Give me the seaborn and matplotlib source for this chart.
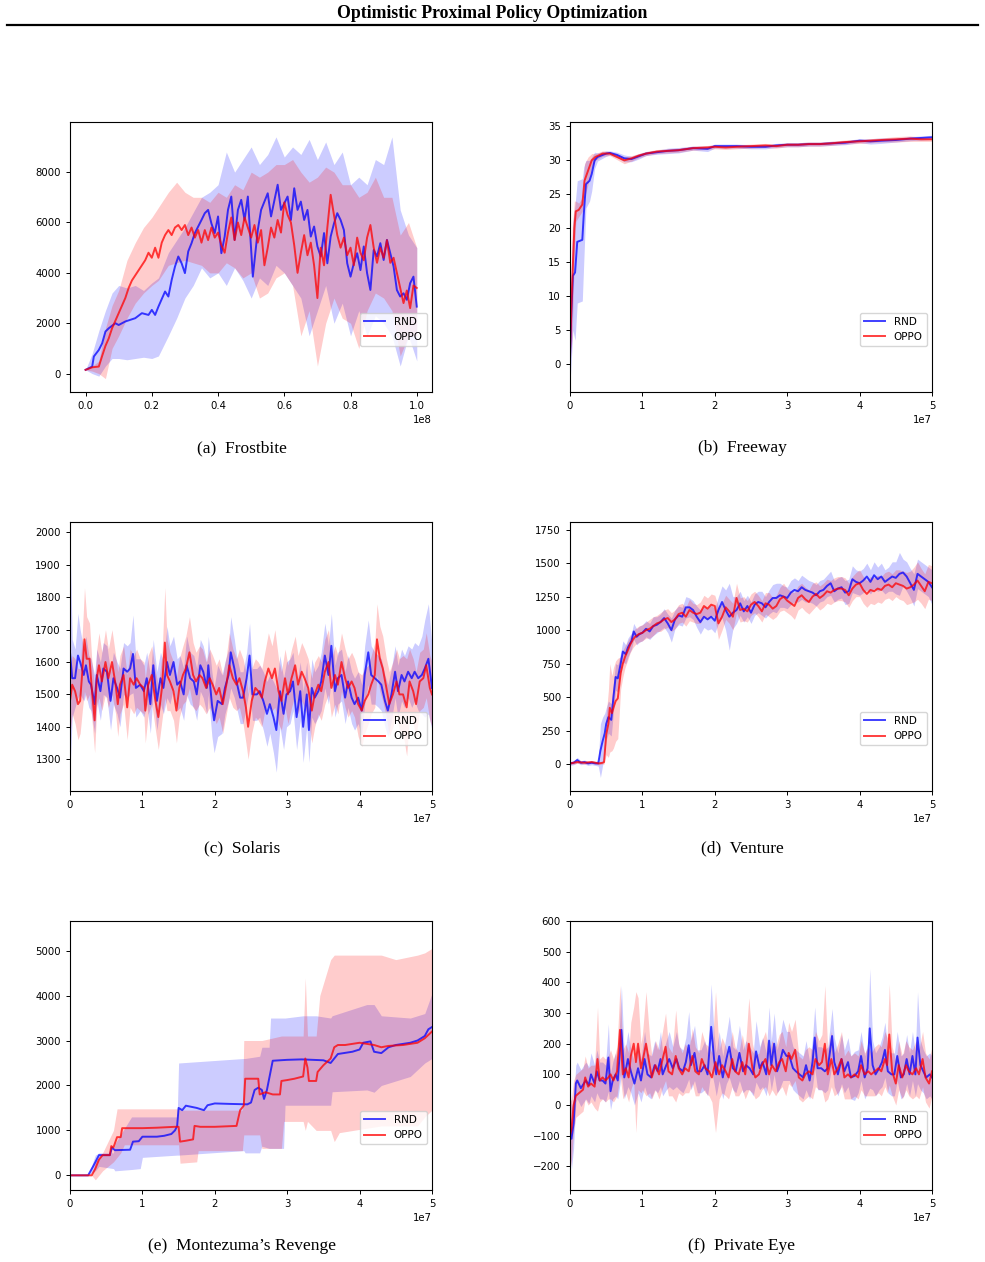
import numpy as np
import matplotlib
matplotlib.use("Agg")
import matplotlib.pyplot as plt
from matplotlib.lines import Line2D
import seaborn as sns

# ─── Data (x given in units of the axis offset: 1e8 for Frostbite, 1e7 for the rest) ───

# (a) Frostbite
frost_rnd_t = [0, 0.02, 0.025, 0.04, 0.05, 0.06, 0.07, 0.09, 0.10, 0.12,
               0.15, 0.17, 0.19, 0.20, 0.21, 0.22, 0.24, 0.25, 0.26, 0.27,
               0.28, 0.29, 0.30, 0.31, 0.32, 0.33, 0.35, 0.36, 0.37, 0.38,
               0.39, 0.40, 0.41, 0.42, 0.43, 0.44, 0.45, 0.46, 0.47, 0.48,
               0.49, 0.50, 0.505, 0.52, 0.53, 0.55, 0.56, 0.58, 0.59, 0.60,
               0.61, 0.62, 0.63, 0.64, 0.65, 0.66, 0.67, 0.68, 0.69, 0.70,
               0.71, 0.72, 0.73, 0.74, 0.75, 0.76, 0.77, 0.78, 0.79, 0.80,
               0.81, 0.82, 0.83, 0.84, 0.85, 0.86, 0.87, 0.88, 0.89, 0.90,
               0.91, 0.92, 0.93, 0.94, 0.95, 0.96, 0.97, 0.98, 0.99, 1.0]
frost_rnd = [150, 280, 680, 940, 1200, 1670, 1800, 2000, 1930, 2070,
             2200, 2400, 2330, 2530, 2330, 2660, 3260, 3060, 3720, 4250,
             4650, 4380, 3990, 4850, 5180, 5580, 6100, 6370, 6500, 5960,
             5580, 6240, 4780, 5440, 6500, 7030, 5310, 6500, 6900, 6100,
             7030, 4910, 3850, 5700, 6500, 7160, 6240, 7500, 6500, 6760,
             7030, 6100, 7360, 6500, 6830, 6100, 6500, 5440, 5840, 5050,
             4650, 5580, 4380, 5440, 5960, 6370, 6100, 5700, 4380, 3850,
             4380, 4780, 4110, 5050, 3990, 3320, 4910, 4650, 5180, 4510,
             5310, 4780, 4250, 3320, 3060, 3190, 2930, 3590, 3850, 2660]
frost_oppo_t = [0, 0.02, 0.04] + [round(0.05 + 0.01 * i, 2) for i in range(96)]
frost_oppo = [150, 250, 280,
              700, 1100, 1400, 1800, 2100, 2400, 2700, 3000, 3400, 3700,
              3900, 4100, 4300, 4500, 4800, 4600, 5000, 4600, 5200, 5500,
              5700, 5500, 5800, 5900, 5700, 5900, 5500, 5800, 5400, 5700,
              5200, 5700, 5300, 5800, 5400, 5600, 5100, 4800, 5600, 6200,
              5300, 6000, 5500, 6200, 5800, 5400, 5900, 5200, 5700, 4300,
              5000, 5800, 5400, 6100, 5600, 6800, 6300, 6000, 5100, 4000,
              4800, 5500, 4700, 5200, 4300, 3000, 5000, 4300, 5800, 7100,
              6300, 5500, 5000, 5400, 4700, 5000, 4300, 5400, 4800, 4500,
              5400, 5900, 5000, 4400, 5000, 4600, 5300, 4400, 4600, 4000,
              3400, 2800, 3300, 2600, 3500, 3400]
frost_band_t = [0, 0.02, 0.04, 0.06, 0.08, 0.10,
                0.125, 0.15, 0.175, 0.20, 0.22, 0.25,
                0.275, 0.30, 0.325, 0.35, 0.375, 0.40,
                0.425, 0.45, 0.475, 0.50, 0.525, 0.55,
                0.575, 0.60, 0.625, 0.65, 0.675, 0.70,
                0.725, 0.75, 0.775, 0.80, 0.825, 0.85,
                0.875, 0.90, 0.925, 0.95, 0.975, 1.0]
frost_rnd_lo = [150, 0, -100, 300, 600, 600,
                550, 600, 650, 600, 700, 1500,
                2200, 3000, 3500, 4200, 3800, 4000,
                3500, 4200, 3700, 3000, 3800, 3500,
                4300, 4000, 3500, 3000, 1500, 2500,
                3500, 2000, 2800, 1500, 2500, 1500,
                2300, 2000, 1500, 300, 1500, 500]
frost_rnd_hi = [150, 800, 1700, 2500, 3200, 3500,
                3400, 3500, 3300, 3600, 3800, 4800,
                5300, 5800, 6400, 7000, 7200, 7500,
                8800, 8000, 8500, 9000, 8300, 8700,
                9400, 8600, 9000, 8700, 9300, 8500,
                9200, 8300, 8800, 7500, 7800, 7500,
                8500, 8300, 9400, 6500, 5500, 5000]
frost_oppo_lo = [150, 100, 0, -200, 1000, 1500,
                 2200, 2800, 3200, 3500, 3700, 4300,
                 4400, 4500, 4400, 4300, 4000, 4000,
                 4400, 4200, 3800, 4000, 3000, 3200,
                 3800, 4000, 3500, 1500, 2500, 300,
                 2000, 3000, 2200, 2000, 1000, 2500,
                 3200, 3000, 2500, 700, 1500, 1500]
frost_oppo_hi = [150, 300, 500, 1800, 2700, 3300,
                 4500, 5200, 5800, 6200, 6600, 7200,
                 7600, 7200, 7000, 7000, 6800, 7200,
                 7000, 7500, 7300, 8000, 7800, 8000,
                 8300, 8300, 8500, 8000, 7600, 7800,
                 8200, 8000, 7500, 7500, 7000, 7200,
                 7800, 7000, 7000, 5500, 6000, 5000]

# (b) Freeway
free_rnd_t = [0, 0.02, 0.04, 0.07, 0.1, 0.17, 0.19, 0.22, 0.27, 0.3,
              0.34, 0.38, 0.5, 0.55, 0.65, 0.75, 0.85, 0.95, 1.05, 1.2,
              1.35, 1.5, 1.7, 1.9, 2.0, 2.15, 2.3, 2.5, 2.7, 2.85,
              3.0, 3.15, 3.3, 3.45, 3.6, 3.8, 4.0, 4.15, 4.3, 4.5,
              4.7, 4.85, 5.0]
free_rnd = [1, 8, 13, 13.5, 18, 18.3, 22, 26.5, 27, 28,
            30, 30.5, 31, 31.1, 30.8, 30.3, 30.2, 30.6, 31, 31.2,
            31.4, 31.5, 31.8, 31.7, 32.1, 32.1, 32.1, 32.0, 32.0, 32.2,
            32.3, 32.3, 32.4, 32.4, 32.5, 32.6, 32.9, 32.8, 32.9, 33.0,
            33.2, 33.3, 33.4]
free_rnd_sd = [4, 7, 8, 10, 9, 9, 7, 3.5, 3, 2.5,
               1.2, 0.6, 0.4, 0.3, 0.4, 0.5, 0.4, 0.4, 0.3, 0.3,
               0.4, 0.4, 0.3, 0.4, 0.3, 0.3, 0.3, 0.3, 0.3, 0.3,
               0.3, 0.3, 0.3, 0.3, 0.3, 0.3, 0.3, 0.4, 0.4, 0.3,
               0.3, 0.3, 0.3]
free_oppo_t = [0, 0.03, 0.06, 0.08, 0.12, 0.17, 0.2, 0.25, 0.3, 0.35,
               0.45, 0.55, 0.65, 0.75, 0.85, 0.95, 1.05, 1.2, 1.35, 1.5,
               1.7, 1.9, 2.0, 2.15, 2.3, 2.5, 2.7, 2.85, 3.0, 3.15,
               3.3, 3.45, 3.6, 3.8, 4.0, 4.15, 4.3, 4.5, 4.7, 4.85,
               5.0]
free_oppo = [2, 12, 20, 22.5, 22.7, 23.5, 27, 28.5, 30, 30.5,
             31, 31, 30.5, 30.0, 30.3, 30.7, 31, 31.3, 31.4, 31.5,
             31.8, 31.9, 32, 31.9, 32.0, 32.1, 32.2, 32.1, 32.3, 32.3,
             32.4, 32.4, 32.5, 32.7, 32.8, 32.9, 33.0, 33.1, 33.2, 33.1,
             33.1]
free_oppo_sd = [2, 8, 4, 1.5, 1, 1, 2.5, 2, 1, 0.5,
                0.4, 0.3, 0.4, 0.5, 0.4, 0.3, 0.3, 0.3, 0.3, 0.3,
                0.3, 0.3, 0.3, 0.3, 0.3, 0.3, 0.3, 0.3, 0.3, 0.3,
                0.3, 0.3, 0.3, 0.3, 0.3, 0.3, 0.3, 0.4, 0.4, 0.3,
                0.3]

# (c) Solaris
sol_rnd_t = [0, 0.03, 0.07, 0.11, 0.14, 0.19, 0.22, 0.26, 0.29, 0.34,
             0.37, 0.42, 0.46, 0.51, 0.56, 0.6, 0.65, 0.69, 0.74, 0.79,
             0.83, 0.87, 0.91, 0.97, 1.02, 1.06, 1.11, 1.15, 1.2, 1.25,
             1.29, 1.34, 1.38, 1.43, 1.48, 1.52, 1.57, 1.61, 1.66, 1.71,
             1.75, 1.8, 1.84, 1.89, 1.91, 1.96, 1.99, 2.04, 2.1, 2.14,
             2.19, 2.22, 2.27, 2.3, 2.35, 2.39, 2.44, 2.48, 2.52, 2.58,
             2.62, 2.67, 2.72, 2.76, 2.81, 2.85, 2.9, 2.95, 2.99, 3.04,
             3.08, 3.13, 3.18, 3.22, 3.27, 3.3, 3.34, 3.38, 3.43, 3.47,
             3.52, 3.57, 3.61, 3.66, 3.7, 3.75, 3.8, 3.84, 3.89, 3.93,
             3.98, 4.03, 4.07, 4.12, 4.16, 4.21, 4.26, 4.3, 4.35, 4.39,
             4.44, 4.49, 4.53, 4.58, 4.62, 4.67, 4.72, 4.76, 4.81, 4.86,
             4.9, 4.95, 5.0]
sol_rnd = [1630, 1550, 1550, 1620, 1600, 1560, 1590, 1540, 1530, 1470,
           1560, 1510, 1580, 1570, 1480, 1550, 1520, 1490, 1580, 1570,
           1580, 1625, 1520, 1530, 1510, 1550, 1470, 1590, 1480, 1550,
           1520, 1600, 1560, 1600, 1530, 1540, 1500, 1590, 1550, 1540,
           1500, 1590, 1570, 1520, 1590, 1470, 1420, 1480, 1470, 1520,
           1560, 1630, 1580, 1540, 1490, 1490, 1550, 1620, 1500, 1500,
           1510, 1480, 1440, 1470, 1430, 1390, 1510, 1440, 1500, 1510,
           1540, 1430, 1510, 1400, 1500, 1390, 1520, 1490, 1510, 1540,
           1620, 1560, 1650, 1510, 1550, 1560, 1490, 1540, 1490, 1470,
           1490, 1450, 1560, 1630, 1560, 1550, 1540, 1530, 1480, 1450,
           1500, 1570, 1510, 1560, 1540, 1570, 1550, 1570, 1550, 1560,
           1580, 1610, 1520]
sol_rnd_sd = [370, 120, 90, 130, 100, 80, 90, 80, 80, 90,
              80, 90, 80, 80, 90, 80, 80, 90, 80, 80,
              80, 120, 90, 80, 80, 80, 90, 80, 90, 80,
              80, 110, 90, 80, 80, 80, 80, 90, 80, 80,
              80, 80, 80, 80, 90, 100, 100, 110, 90, 80,
              80, 110, 90, 80, 80, 80, 80, 100, 80, 80,
              80, 90, 100, 90, 110, 130, 110, 110, 100, 100,
              90, 100, 90, 110, 100, 100, 90, 80, 80, 90,
              100, 90, 100, 80, 80, 80, 80, 80, 80, 80,
              80, 80, 90, 100, 90, 80, 80, 80, 80, 80,
              80, 80, 80, 80, 80, 80, 90, 90, 100, 120,
              150, 170, 130]
sol_oppo_t = [0, 0.03, 0.07, 0.11, 0.14, 0.17, 0.2, 0.23, 0.27, 0.3,
              0.34, 0.37, 0.4, 0.44, 0.49, 0.53, 0.58, 0.63, 0.66, 0.69,
              0.74, 0.79, 0.83, 0.88, 0.92, 0.97, 1.02, 1.04, 1.08, 1.13,
              1.18, 1.22, 1.27, 1.31, 1.34, 1.38, 1.43, 1.47, 1.51, 1.56,
              1.6, 1.65, 1.7, 1.74, 1.79, 1.83, 1.88, 1.93, 1.97, 2.02,
              2.06, 2.11, 2.16, 2.2, 2.25, 2.3, 2.34, 2.39, 2.43, 2.46,
              2.51, 2.56, 2.6, 2.65, 2.69, 2.74, 2.79, 2.83, 2.88, 2.92,
              2.97, 3.01, 3.06, 3.11, 3.15, 3.2, 3.24, 3.29, 3.34, 3.38,
              3.43, 3.47, 3.52, 3.57, 3.61, 3.66, 3.7, 3.75, 3.8, 3.84,
              3.89, 3.93, 3.98, 4.03, 4.07, 4.12, 4.16, 4.21, 4.24, 4.28,
              4.32, 4.37, 4.41, 4.46, 4.51, 4.55, 4.6, 4.65, 4.69, 4.74,
              4.78, 4.83, 4.88, 4.92, 4.97, 5.0]
sol_oppo = [1480, 1530, 1510, 1470, 1480, 1570, 1670, 1610, 1610, 1520,
            1420, 1550, 1590, 1540, 1600, 1550, 1600, 1530, 1470, 1530,
            1560, 1460, 1550, 1530, 1550, 1530, 1520, 1450, 1530, 1560,
            1480, 1430, 1520, 1660, 1560, 1540, 1510, 1450, 1520, 1560,
            1580, 1630, 1560, 1540, 1560, 1550, 1520, 1550, 1530, 1500,
            1520, 1470, 1530, 1590, 1550, 1530, 1550, 1510, 1460, 1400,
            1480, 1520, 1510, 1490, 1540, 1580, 1550, 1580, 1510, 1480,
            1550, 1500, 1550, 1590, 1530, 1570, 1550, 1520, 1450, 1500,
            1530, 1510, 1570, 1600, 1520, 1560, 1530, 1600, 1550, 1520,
            1540, 1520, 1470, 1450, 1480, 1500, 1530, 1560, 1670, 1610,
            1580, 1520, 1470, 1500, 1540, 1500, 1500, 1460, 1540, 1510,
            1470, 1540, 1550, 1590, 1520, 1500]
sol_oppo_sd = [100, 90, 100, 110, 100, 120, 160, 130, 110, 90,
               100, 90, 100, 90, 100, 90, 100, 90, 100, 90,
               90, 100, 90, 90, 90, 80, 80, 100, 90, 90,
               90, 100, 100, 170, 110, 90, 90, 100, 90, 90,
               100, 110, 100, 90, 90, 90, 80, 90, 90, 90,
               90, 90, 90, 100, 90, 80, 90, 100, 110, 100,
               100, 90, 90, 90, 90, 110, 100, 120, 100, 90,
               90, 90, 90, 90, 90, 90, 90, 90, 100, 100,
               90, 90, 100, 100, 90, 90, 90, 90, 90, 90,
               90, 90, 100, 110, 100, 90, 90, 100, 110, 100,
               100, 90, 100, 100, 100, 110, 120, 150, 100, 100,
               100, 90, 90, 100, 100, 100]

# (d) Venture
grid_late = [round(1.0 + 0.05 * i, 2) for i in range(81)]
ven_rnd_t = [0, 0.05, 0.1, 0.15, 0.2, 0.25, 0.3, 0.35, 0.39, 0.42,
             0.45, 0.48, 0.5, 0.53, 0.57, 0.6, 0.63, 0.66, 0.7, 0.73,
             0.77, 0.8, 0.85, 0.88, 0.92, 0.96] + grid_late
ven_rnd = [5, 10, 30, 10, 15, 5, 10, 5, 5, 100,
           170, 230, 300, 350, 330, 500, 650, 640, 750, 840,
           820, 870, 920, 990, 950, 970,
           980, 1010, 990, 1030, 1040, 1060, 1090, 1050, 1000, 1080,
           1110, 1100, 1170, 1170, 1150, 1100, 1060, 1100, 1080, 1100,
           1070, 1150, 1210, 1150, 1100, 1130, 1150, 1200, 1140, 1180,
           1130, 1190, 1210, 1200, 1170, 1210, 1240, 1240, 1260, 1250,
           1240, 1280, 1300, 1290, 1320, 1300, 1290, 1280, 1260, 1290,
           1300, 1330, 1350, 1290, 1310, 1320, 1280, 1290, 1380, 1360,
           1350, 1370, 1400, 1360, 1410, 1380, 1400, 1360, 1380, 1400,
           1390, 1420, 1430, 1400, 1350, 1300, 1420, 1400, 1380, 1360,
           1320]
ven_rnd_sd = [15, 15, 20, 15, 15, 15, 15, 15, 20, 200,
              180, 150, 120, 120, 120, 110, 100, 100, 80, 80,
              70, 70, 60, 60, 60, 60,
              60, 60, 60, 70, 60, 60, 70, 70, 90, 70,
              70, 70, 80, 70, 70, 80, 90, 80, 80, 90,
              90, 100, 120, 150, 250, 120, 100, 90, 80, 80,
              80, 80, 80, 90, 80, 90, 100, 110, 90, 80,
              80, 90, 90, 80, 90, 90, 80, 80, 80, 80,
              80, 80, 90, 80, 80, 80, 90, 90, 100, 90,
              90, 90, 100, 90, 100, 90, 100, 90, 90, 110,
              120, 160, 100, 110, 110, 120, 110, 110, 110, 110,
              130]
ven_oppo_t = [0, 0.1, 0.2, 0.3, 0.4, 0.45, 0.47, 0.5, 0.53, 0.55,
              0.58, 0.6, 0.63, 0.66, 0.7, 0.73, 0.76, 0.8, 0.83, 0.87,
              0.9, 0.95] + grid_late
ven_oppo = [5, 15, 10, 15, 5, 10, 15, 220, 300, 420,
            380, 420, 470, 490, 680, 750, 800, 850, 890, 930,
            950, 970,
            980, 1000, 1010, 1030, 1050, 1060, 1080, 1090, 1060, 1080,
            1120, 1130, 1100, 1150, 1130, 1120, 1130, 1180, 1160, 1190,
            1180, 1050, 1100, 1170, 1140, 1100, 1240, 1150, 1160, 1140,
            1190, 1210, 1180, 1140, 1200, 1190, 1160, 1180, 1230, 1250,
            1220, 1200, 1180, 1240, 1260, 1230, 1210, 1250, 1270, 1240,
            1260, 1290, 1280, 1300, 1310, 1310, 1300, 1260, 1310, 1340,
            1350, 1300, 1270, 1300, 1290, 1310, 1300, 1330, 1340, 1320,
            1350, 1340, 1330, 1310, 1320, 1340, 1370, 1330, 1290, 1360,
            1350]
ven_oppo_sd = [10, 10, 10, 10, 10, 10, 15, 150, 250, 330,
               280, 300, 300, 300, 120, 100, 80, 70, 60, 60,
               60, 60,
               60, 60, 70, 70, 60, 70, 70, 70, 70, 70,
               70, 70, 70, 80, 70, 70, 80, 80, 80, 80,
               80, 120, 100, 90, 90, 100, 110, 90, 90, 80,
               80, 80, 80, 80, 80, 90, 80, 80, 90, 100,
               90, 90, 100, 90, 90, 90, 90, 100, 90, 90,
               90, 90, 90, 90, 90, 90, 90, 90, 90, 90,
               100, 100, 100, 100, 100, 100, 100, 100, 100, 100,
               100, 110, 110, 120, 120, 130, 140, 130, 130, 130,
               130]

# (e) Montezuma's Revenge
mont_rnd_t = [0, 0.25, 0.32, 0.4, 0.55, 0.58, 0.62, 0.83, 0.87, 0.95,
              1.0, 1.2, 1.3, 1.4, 1.45, 1.48, 1.5, 1.55, 1.6, 1.75,
              1.85, 1.9, 2.0, 2.2, 2.45, 2.5, 2.55, 2.6, 2.65, 2.68,
              2.72, 2.8, 3.0, 3.2, 3.5, 3.6, 3.65, 3.7, 3.9, 4.0,
              4.05, 4.15, 4.2, 4.3, 4.4, 4.5, 4.7, 4.8, 4.9, 4.95,
              5.0]
mont_rnd = [0, 0, 200, 450, 450, 620, 560, 570, 750, 760,
            860, 860, 880, 920, 1000, 1100, 1500, 1450, 1550, 1500,
            1450, 1560, 1600, 1590, 1580, 1620, 1900, 1950, 1900, 1700,
            1900, 2550, 2570, 2580, 2560, 2500, 2600, 2700, 2750, 2800,
            2950, 2980, 2750, 2720, 2850, 2900, 2950, 3000, 3100, 3250,
            3300]
mont_oppo_t = [0, 0.3, 0.35, 0.4, 0.45, 0.55, 0.57, 0.6, 0.65, 0.7,
               0.72, 1.0, 1.2, 1.45, 1.5, 1.52, 1.6, 1.7, 1.72, 1.8,
               2.0, 2.3, 2.35, 2.4, 2.42, 2.5, 2.6, 2.62, 2.7, 2.8,
               2.9, 2.92, 3.0, 3.1, 3.22, 3.25, 3.28, 3.3, 3.4, 3.42,
               3.5, 3.6, 3.65, 3.7, 3.8, 4.0, 4.2, 4.3, 4.4, 4.6,
               4.8, 4.9, 5.0]
mont_oppo = [0, 0, 150, 350, 450, 450, 650, 620, 850, 850,
             1050, 1050, 1060, 1080, 1080, 750, 770, 800, 1100, 1080,
             1080, 1100, 1450, 1550, 2150, 2150, 2150, 1800, 1850, 1800,
             1800, 2100, 2120, 2150, 2200, 2600, 2400, 2100, 2100, 2300,
             2450, 2600, 2850, 2900, 2900, 2950, 2900, 2850, 2880, 2900,
             2950, 3050, 3200]
mont_rnd_band_t = [0, 0.25, 0.35, 0.4, 0.6, 0.62, 0.85, 0.97, 1.0, 1.48,
                   1.5, 2.4, 2.42, 2.62, 2.65, 2.75, 2.77, 2.95, 2.97, 3.22,
                   3.25, 3.28, 3.4, 3.6, 3.62, 4.1, 4.2, 4.3, 4.7, 4.9,
                   5.0]
mont_rnd_lo = [0, 0, 100, 200, 150, 100, 130, 150, 400, 450,
               450, 550, 500, 500, 650, 600, 600, 600, 1560, 1560,
               1560, 1560, 1560, 1560, 1860, 1900, 1850, 2000, 2200, 2500,
               2600]
mont_rnd_hi = [0, 0, 450, 500, 500, 700, 1300, 1300, 1300, 1300,
               2500, 2600, 2600, 2650, 2850, 2850, 3500, 3500, 3500, 3550,
               3550, 3550, 3550, 3500, 3550, 3800, 3800, 3550, 3500, 3600,
               4050]
mont_oppo_band_t = [0, 0.3, 0.35, 0.45, 0.6, 0.65, 0.7, 0.75, 1.5, 1.52,
                    1.75, 1.77, 2.38, 2.4, 2.62, 2.65, 2.92, 2.95, 3.22, 3.25,
                    3.28, 3.4, 3.45, 3.6, 3.65, 3.72, 4.3, 4.5, 4.8, 4.9,
                    5.0]
mont_oppo_lo = [0, 0, -100, 100, 300, 400, 500, 680, 680, 270,
                300, 550, 550, 900, 900, 600, 600, 1200, 1200, 1000,
                1200, 1000, 1000, 1000, 750, 950, 1100, 1100, 1100, 1300,
                1450]
mont_oppo_hi = [0, 0, 300, 500, 1000, 1480, 1480, 1480, 1480, 1450,
                1450, 1450, 1450, 3000, 3000, 3000, 3100, 3100, 3100, 4400,
                3100, 3100, 4000, 4800, 4900, 4900, 4900, 4800, 4900, 4950,
                5050]

# (f) Private Eye
eye_rnd_t = [0, 0.02, 0.05, 0.08, 0.1, 0.15, 0.19, 0.22, 0.26, 0.29,
             0.34, 0.37, 0.41, 0.45, 0.49, 0.53, 0.56, 0.59, 0.63, 0.66,
             0.71, 0.75, 0.8, 0.84, 0.89, 0.94, 0.98, 1.03, 1.07, 1.12,
             1.17, 1.21, 1.25, 1.28, 1.33, 1.37, 1.42, 1.47, 1.51, 1.56,
             1.6, 1.64, 1.67, 1.72, 1.76, 1.81, 1.86, 1.9, 1.95, 1.99,
             2.02, 2.06, 2.11, 2.16, 2.2, 2.25, 2.29, 2.34, 2.39, 2.43,
             2.48, 2.53, 2.57, 2.62, 2.66, 2.71, 2.75, 2.78, 2.82, 2.86,
             2.89, 2.94, 2.99, 3.03, 3.08, 3.12, 3.17, 3.22, 3.26, 3.31,
             3.35, 3.38, 3.42, 3.47, 3.52, 3.56, 3.62, 3.65, 3.7, 3.75,
             3.79, 3.84, 3.88, 3.93, 3.98, 4.02, 4.07, 4.11, 4.14, 4.18,
             4.22, 4.27, 4.31, 4.35, 4.39, 4.44, 4.48, 4.52, 4.57, 4.61,
             4.65, 4.69, 4.73, 4.77, 4.8, 4.84, 4.88, 4.92, 4.97, 5.0]
eye_rnd = [-40, -110, -60, 70, 80, 55, 70, 80, 65, 100,
           70, 110, 80, 80, 70, 155, 45, 80, 100, 80,
           245, 90, 150, 110, 70, 120, 80, 150, 100, 90,
           130, 110, 150, 100, 130, 150, 120, 150, 120, 110,
           140, 195, 130, 170, 110, 110, 130, 100, 255, 150,
           100, 160, 90, 150, 190, 120, 110, 170, 110, 130,
           120, 100, 175, 120, 140, 100, 210, 130, 200, 110,
           130, 180, 160, 160, 120, 110, 100, 90, 130, 80,
           140, 220, 120, 120, 110, 120, 225, 140, 100, 150,
           110, 140, 90, 95, 110, 160, 90, 120, 250, 130,
           100, 120, 140, 180, 110, 100, 100, 160, 90, 100,
           150, 100, 160, 100, 220, 130, 110, 90, 100, 90]
eye_rnd_sd = [110, 100, 80, 60, 60, 60, 60, 60, 60, 70,
              60, 70, 60, 60, 60, 110, 60, 60, 70, 60,
              145, 70, 90, 70, 70, 80, 70, 90, 70, 70,
              80, 70, 90, 70, 80, 90, 70, 90, 70, 70,
              80, 110, 80, 90, 70, 70, 80, 70, 140, 80,
              70, 80, 70, 80, 100, 70, 70, 90, 70, 80,
              70, 70, 100, 70, 80, 70, 110, 80, 100, 70,
              80, 100, 80, 80, 70, 70, 70, 70, 80, 60,
              80, 100, 70, 70, 70, 70, 90, 80, 70, 80,
              70, 80, 70, 80, 70, 80, 70, 80, 195, 80,
              70, 70, 80, 90, 70, 70, 70, 80, 70, 70,
              80, 70, 80, 70, 150, 80, 70, 70, 70, 70]
eye_oppo_t = [0, 0.02, 0.05, 0.08, 0.13, 0.18, 0.21, 0.25, 0.29, 0.34,
              0.38, 0.41, 0.45, 0.49, 0.53, 0.56, 0.6, 0.65, 0.69, 0.73,
              0.77, 0.81, 0.84, 0.88, 0.91, 0.94, 0.98, 1.0, 1.05, 1.1,
              1.13, 1.18, 1.23, 1.27, 1.32, 1.36, 1.41, 1.46, 1.5, 1.55,
              1.59, 1.64, 1.69, 1.73, 1.78, 1.82, 1.87, 1.92, 1.96, 2.01,
              2.06, 2.1, 2.15, 2.19, 2.24, 2.28, 2.33, 2.38, 2.42, 2.47,
              2.52, 2.56, 2.61, 2.65, 2.7, 2.75, 2.79, 2.84, 2.89, 2.93,
              2.98, 3.02, 3.06, 3.11, 3.16, 3.21, 3.25, 3.3, 3.35, 3.39,
              3.44, 3.48, 3.52, 3.56, 3.61, 3.65, 3.7, 3.75, 3.79, 3.84,
              3.88, 3.93, 3.98, 4.02, 4.07, 4.12, 4.16, 4.21, 4.26, 4.3,
              4.35, 4.38, 4.41, 4.45, 4.5, 4.54, 4.59, 4.64, 4.68, 4.73,
              4.78, 4.82, 4.87, 4.91, 4.96, 5.0]
eye_oppo = [-100, -80, 0, 30, 40, 50, 90, 60, 70, 60,
            150, 80, 90, 80, 90, 100, 80, 110, 245, 100,
            120, 90, 160, 200, 140, 200, 120, 140, 200, 130,
            90, 130, 100, 140, 190, 110, 100, 160, 120, 100,
            120, 110, 160, 110, 100, 150, 120, 110, 90, 140,
            100, 130, 110, 90, 150, 110, 100, 140, 100, 200,
            120, 90, 100, 130, 150, 100, 130, 110, 140, 150,
            110, 170, 150, 180, 90, 80, 100, 110, 100, 150,
            130, 140, 200, 100, 150, 100, 120, 150, 90, 100,
            90, 100, 90, 130, 100, 110, 100, 110, 120, 110,
            150, 130, 230, 110, 70, 130, 90, 130, 110, 100,
            120, 100, 150, 90, 70, 110]
eye_oppo_sd = [110, 100, 80, 70, 70, 70, 70, 60, 60, 70,
               170, 70, 70, 70, 70, 80, 70, 80, 145, 80,
               80, 80, 110, 120, 230, 150, 80, 90, 170, 90,
               70, 80, 80, 90, 110, 80, 70, 150, 80, 70,
               80, 70, 90, 80, 70, 90, 80, 80, 80, 230,
               80, 90, 80, 70, 90, 80, 70, 90, 80, 150,
               80, 70, 70, 80, 90, 70, 80, 80, 90, 90,
               80, 100, 90, 100, 70, 70, 80, 80, 80, 90,
               80, 90, 190, 80, 90, 70, 80, 90, 70, 80,
               70, 70, 70, 80, 70, 80, 70, 80, 80, 80,
               90, 90, 165, 80, 70, 80, 70, 80, 80, 80,
               90, 80, 90, 80, 80, 80]

captions = ["(a)  Frostbite", "(b)  Freeway", "(c)  Solaris",
            "(d)  Venture", "(e)  Montezuma\u2019s Revenge", "(f)  Private Eye"]

# ─── Figure ───
W, H = 985, 1262
fig = plt.figure(figsize=(W / 100, H / 100), dpi=100)

plt.rcParams["font.size"] = 7.3


def box(left, top, right, bottom):
    return [left / W, 1 - bottom / H, (right - left) / W, (bottom - top) / H]


def draw(ax, scale, rnd, oppo):
    # rnd / oppo: (t, mean, band_t, lo, hi)
    for (t, mean, bt, lo, hi), col in [(rnd, "blue"), (oppo, "red")]:
        ax.fill_between(np.asarray(bt) * scale, lo, hi, color=col, alpha=0.2, linewidth=0)
    for (t, mean, bt, lo, hi), col, lab in [(rnd, "blue", "RND"), (oppo, "red", "OPPO")]:
        sns.lineplot(x=np.asarray(t) * scale, y=mean, ax=ax, color=col, alpha=0.75,
                     linewidth=1.4, label=lab, sort=False, estimator=None)
    ax.legend(loc="lower right", bbox_to_anchor=(1.0, 0.15), fontsize=7.5)
    ax.set_xlabel("")
    ax.set_ylabel("")
    ax.tick_params(labelsize=7.3, length=3, width=0.7)
    for s in ax.spines.values():
        s.set_linewidth(0.8)


def with_sd(t, mean, sd):
    m = np.asarray(mean, dtype=float)
    s = np.asarray(sd, dtype=float)
    return (t, mean, t, m - s, m + s)


panels = [
    (box(70, 122, 432, 392), 1e8,
     (frost_rnd_t, frost_rnd, frost_band_t, frost_rnd_lo, frost_rnd_hi),
     (frost_oppo_t, frost_oppo, frost_band_t, frost_oppo_lo, frost_oppo_hi),
     (-0.047e8, 1.046e8), (-730, 9990)),
    (box(570, 122, 932, 392), 1e7,
     with_sd(free_rnd_t, free_rnd, free_rnd_sd),
     with_sd(free_oppo_t, free_oppo, free_oppo_sd),
     (0, 5e7), (-4.1, 35.65)),
    (box(70, 522, 432, 791), 1e7,
     with_sd(sol_rnd_t, sol_rnd, sol_rnd_sd),
     with_sd(sol_oppo_t, sol_oppo, sol_oppo_sd),
     (0, 5e7), (1202, 2032)),
    (box(570, 522, 932, 791), 1e7,
     with_sd(ven_rnd_t, ven_rnd, ven_rnd_sd),
     with_sd(ven_oppo_t, ven_oppo, ven_oppo_sd),
     (0, 5e7), (-201, 1807)),
    (box(70, 921, 432, 1190), 1e7,
     (mont_rnd_t, mont_rnd, mont_rnd_band_t, mont_rnd_lo, mont_rnd_hi),
     (mont_oppo_t, mont_oppo, mont_oppo_band_t, mont_oppo_lo, mont_oppo_hi),
     (0, 5e7), (-326, 5659)),
    (box(570, 921, 932, 1190), 1e7,
     with_sd(eye_rnd_t, eye_rnd, eye_rnd_sd),
     with_sd(eye_oppo_t, eye_oppo, eye_oppo_sd),
     (0, 5e7), (-277, 600)),
]

cap_pos = [(242, 448), (742, 448), (242, 848), (742, 848), (242, 1246), (742, 1246)]

for (rect, scale, rnd, oppo, xl, yl), cap, (cx, cy) in zip(panels, captions, cap_pos):
    ax = fig.add_axes(rect)
    draw(ax, scale, rnd, oppo)
    ax.set_xlim(*xl)
    ax.set_ylim(*yl)
    fig.text(cx / W, 1 - cy / H, cap, ha="center", va="center",
             family="Liberation Serif", fontsize=12.5)

# page header
fig.text(492 / W, 1 - 13 / H, "Optimistic Proximal Policy Optimization",
         ha="center", va="center", family="Liberation Serif",
         fontweight="bold", fontsize=12.8)
fig.add_artist(Line2D([7 / W, 978 / W], [1 - 25 / H, 1 - 25 / H],
                      transform=fig.transFigure, color="black", linewidth=1.6))

fig.savefig("out.png", dpi=100)
